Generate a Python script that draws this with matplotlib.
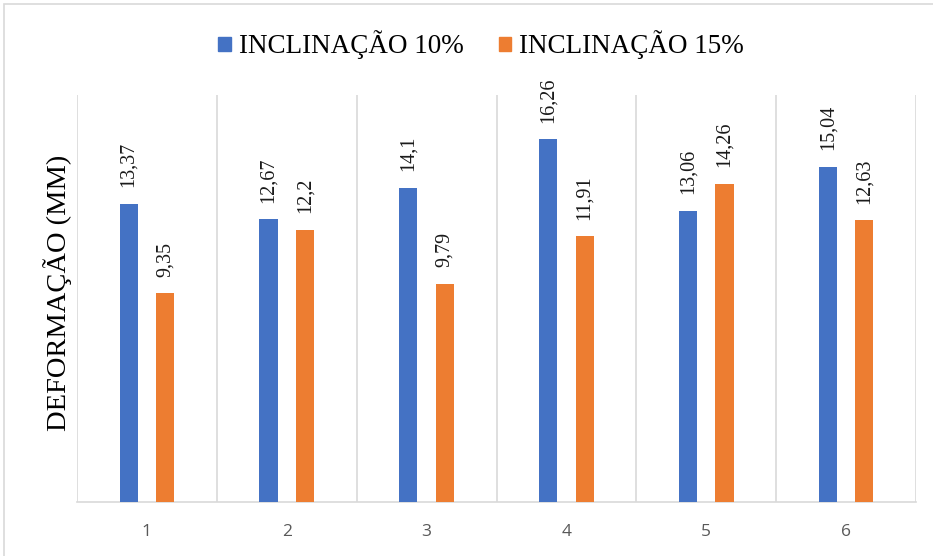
import matplotlib
matplotlib.use("Agg")
import matplotlib.pyplot as plt
from matplotlib.patches import Patch, Rectangle

# Data
categorias = [1, 2, 3, 4, 5, 6]
inclinacao_10 = [13.37, 12.67, 14.10, 16.26, 13.06, 15.04]
inclinacao_15 = [9.35, 12.20, 9.79, 11.91, 14.26, 12.63]
rotulos_10 = ["13,37", "12,67", "14,1", "16,26", "13,06", "15,04"]
rotulos_15 = ["9,35", "12,2", "9,79", "11,91", "14,26", "12,63"]

azul = "#4472C4"
laranja = "#ED7D31"
cinza = "#D9D9D9"
serif = "Liberation Serif"

W, H = 933, 556
fig = plt.figure(figsize=(W / 100, H / 100), dpi=100)

# outer frame (light gray, only left/top visible)
fig.patches.append(Rectangle((4 / W, -0.1), 1.2, 1 - 4 / H + 0.1, transform=fig.transFigure,
                             fill=False, edgecolor=cinza, linewidth=1.2))

ax = fig.add_axes([77 / W, 1 - 502 / H, (916 - 77) / W, (502 - 95) / H])

largura = 0.13
x = categorias
ax.bar([c - largura for c in x], inclinacao_10, width=largura, color=azul, zorder=3)
ax.bar([c + largura for c in x], inclinacao_15, width=largura, color=laranja, zorder=3)

# value labels, rotated like the original
for c, v, t in zip(x, inclinacao_10, rotulos_10):
    ax.annotate(t, xy=(c - largura, v), xytext=(0, 12), textcoords="offset points",
                rotation=90, ha="center", va="bottom", fontsize=14.5, family=serif, color="#1a1a1a")
for c, v, t in zip(x, inclinacao_15, rotulos_15):
    ax.annotate(t, xy=(c + largura, v), xytext=(0, 12), textcoords="offset points",
                rotation=90, ha="center", va="bottom", fontsize=14.5, family=serif, color="#1a1a1a")

ax.set_xlim(0.5, 6.5)
ax.set_ylim(0, 18.25)

# category separators
for s in [0.5 + i for i in range(7)]:
    ax.axvline(s, color=cinza, linewidth=1.2, zorder=1)

for side in ["top", "right", "left"]:
    ax.spines[side].set_visible(False)
ax.spines["bottom"].set_color(cinza)
ax.spines["bottom"].set_linewidth(1.2)

ax.set_yticks([])
ax.set_xticks(categorias)
ax.set_xticklabels([str(c) for c in categorias], family="Open Sans", fontsize=12.5, color="#595959")
ax.tick_params(axis="x", length=0, pad=16)

fig.text(58 / W, 1 - 293 / H, "DEFORMAÇÃO (MM)", rotation=90, ha="center", va="center",
         fontsize=20.5, family=serif, color="#000000")

handles = [Patch(color=azul, label="INCLINAÇÃO 10%"), Patch(color=laranja, label="INCLINAÇÃO 15%")]
fig.legend(handles=handles, loc="center", bbox_to_anchor=(481 / W, 1 - 45 / H), ncol=2, frameon=False,
           prop={"family": serif, "size": 19.5}, handlelength=0.45, handleheight=0.45,
           handletextpad=0.3, columnspacing=1.3)

fig.savefig("out.png", dpi=100)
